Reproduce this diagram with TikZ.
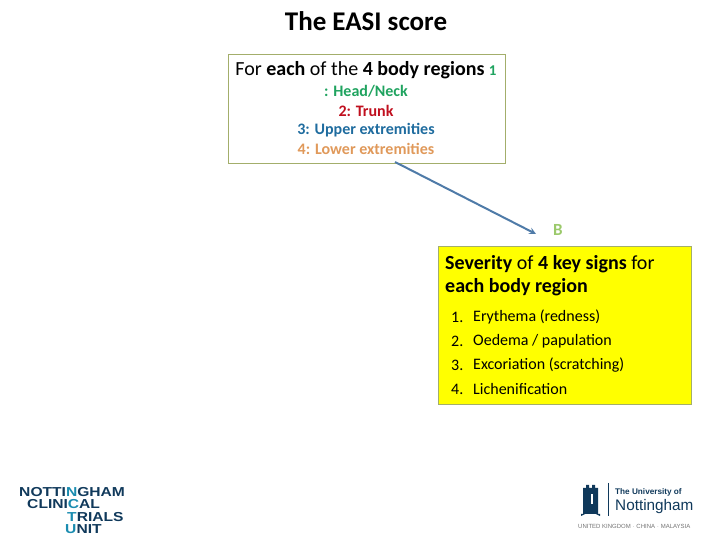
\documentclass[tikz,border=0pt]{standalone}
\usepackage{fontspec}
\setmainfont{Carlito}
\newfontfamily\logofont{Liberation Sans}
\usepackage{tikz}
\usetikzlibrary{positioning,arrows}
\definecolor{boxLine}{HTML}{A3AE6B}
\definecolor{tYellow}{RGB}{255,255,0}
\definecolor{tGreen}{HTML}{1FA35F}
\definecolor{tRed}{HTML}{C00F1E}
\definecolor{tBlue}{HTML}{1F6C9F}
\definecolor{tOrange}{HTML}{E0995A}
\definecolor{lineBlue}{HTML}{4F7BA8}
\definecolor{letterB}{HTML}{9BC96B}
\definecolor{nottNavy}{HTML}{10395B}
\definecolor{nottTeal}{HTML}{1A8CB0}
\newcommand{\fs}[1]{\fontsize{#1}{#1}\selectfont}
\tikzstyle{arrow} = [line width=2pt,-stealth,draw=lineBlue]
\tikzstyle{tRect} = [rectangle, draw=boxLine, line width=0.8pt, inner sep=0pt]
\tikzstyle{tItem} = [anchor=west, inner sep=0pt, font=\fs{16}]
\tikzstyle{tRegion} = [font=\fs{16}\bfseries, inner sep=0pt]
\tikzstyle{tLogo} = [anchor=west, inner sep=0pt, text=nottNavy, font=\logofont\fs{13}\bfseries, xscale=1.2, transform shape]
\begin{document}
\begin{tikzpicture}[x=1pt,y=1pt]
    \useasboundingbox (0,0) rectangle (720,540);
    \node (Title) at (366,519) {\fs{27}\textbf{The EASI score}};
    \node[tRect, minimum width=277pt, minimum height=109pt] (Regions) at (366.5,431.5) {};
    \node[anchor=base] (RegionsHead) at (366,464) {\fs{20}For \textbf{each} of the \textbf{4 body regions} {\fs{15}\bfseries\color{tGreen}1}};
    \node[tRegion, text=tGreen] (Head) at (366,449) {: Head/Neck};
    \node[tRegion, text=tRed] (Trunk) at (366,429) {2: Trunk};
    \node[tRegion, text=tBlue] (Upper) at (366,410) {3: Upper extremities};
    \node[tRegion, text=tOrange] (Lower) at (366,391) {4: Lower extremities};
    \node[tRect, fill=tYellow, minimum width=253pt, minimum height=158pt] (Severity) at (564.5,215) {};
    \node[text=letterB, font=\fs{17}\bfseries] (LetterB) at (558,310) {B};
    \node[anchor=north west, inner sep=0pt, align=left, font=\fs{20}] (SeverityHead) at (445,285) {\textbf{Severity} of \textbf{4 key signs} for\\[3pt]\textbf{each body region}};
    \node[tItem] (Item1) at (451,223) {1.};
    \node[tItem] (Text1) at (473,223) {Erythema (redness)};
    \node[tItem] (Item2) at (451,199) {2.};
    \node[tItem] (Text2) at (473,199) {Oedema / papulation};
    \node[tItem] (Item3) at (451,175) {3.};
    \node[tItem] (Text3) at (473,175) {Excoriation (scratching)};
    \node[tItem] (Item4) at (451,151) {4.};
    \node[tItem] (Text4) at (473,151) {Lichenification};
    \coordinate (ArrowStart) at (395,378);
    \coordinate (ArrowEnd) at (536,306);
    \draw[arrow] (ArrowStart) -- (ArrowEnd);
    % left logo
    \node[tLogo] (LogoA) at (19,48) {NOTTI\textcolor{nottTeal}{N}GHAM};
    \node[tLogo] (LogoB) at (27,35.5) {CLINI\textcolor{nottTeal}{C}AL};
    \node[tLogo] (LogoC) at (67,23) {\textcolor{nottTeal}{T}RIALS};
    \node[tLogo] (LogoD) at (65,10.5) {\textcolor{nottTeal}{U}NIT};
    % right logo
    \fill[nottNavy] (583,26) -- (583,52) -- (586,52) -- (586,55) -- (589,55) -- (589,52) -- (592,52) -- (592,55) -- (595,55) -- (595,52) -- (598,52) -- (598,26) -- cycle;
    \fill[nottNavy] (581,24) .. controls (587,28) and (594,28) .. (600,24) -- (600,26) -- (581,26) -- cycle;
    \fill[white] (591,36) rectangle (593,46);
    \draw[nottNavy, line width=0.8pt] (608,57) -- (608,24);
    \node[anchor=west, inner sep=0pt, text=nottNavy, font=\logofont\fs{8.2}\bfseries] (LogoUni) at (615,48) {The University of};
    \node[anchor=west, inner sep=0pt, text=nottNavy, font=\logofont\fs{15.3}] (LogoNott) at (615,33.5) {Nottingham};
    \node[anchor=west, inner sep=0pt, text=black!55, font=\logofont\fs{6}] (LogoPlaces) at (578,14) {UNITED KINGDOM $\cdot$ CHINA $\cdot$ MALAYSIA};
\end{tikzpicture}
\end{document}
